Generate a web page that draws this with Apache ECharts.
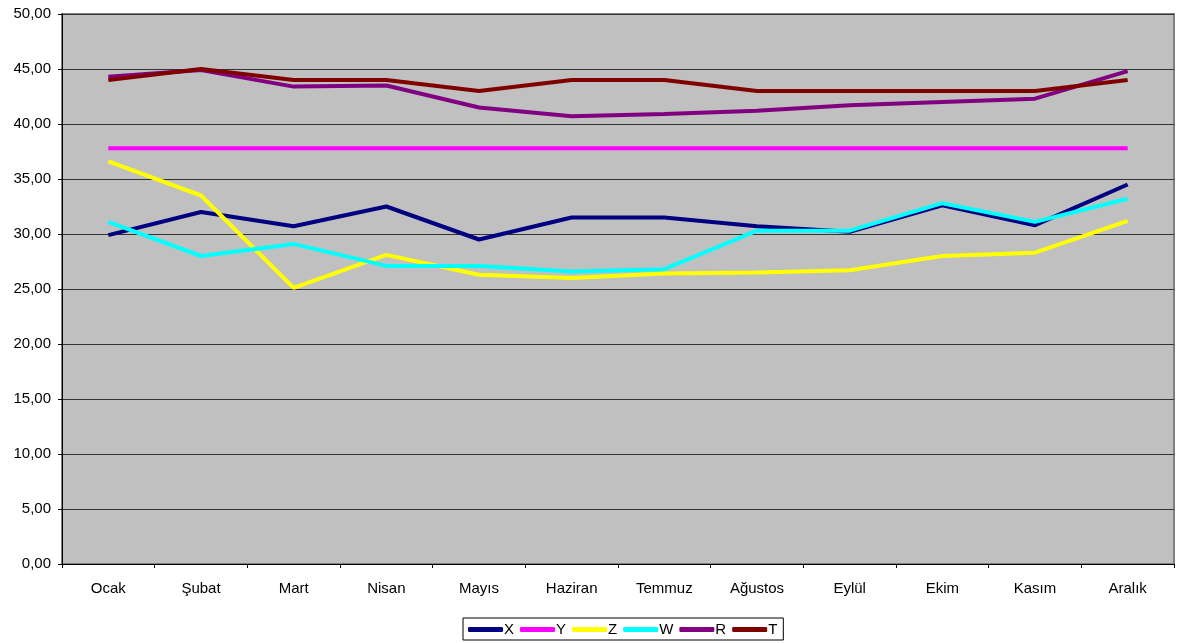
<!DOCTYPE html>
<html>
<head>
<meta charset="utf-8">
<script src="https://cdn.jsdelivr.net/npm/echarts@6/dist/echarts.min.js"></script>
<style>
  html, body { margin: 0; padding: 0; background: #fff; }
  #chart { width: 1177px; height: 643px; }
</style>
</head>
<body>
<div id="chart"></div>
<script>
const months = ['Ocak', 'Şubat', 'Mart', 'Nisan', 'Mayıs', 'Haziran', 'Temmuz', 'Ağustos', 'Eylül', 'Ekim', 'Kasım', 'Aralık']

const seriesX = [29.9, 32.0, 30.7, 32.5, 29.5, 31.5, 31.5, 30.7, 30.2, 32.6, 30.8, 34.5]
const seriesY = [37.8, 37.8, 37.8, 37.8, 37.8, 37.8, 37.8, 37.8, 37.8, 37.8, 37.8, 37.8]
const seriesZ = [36.6, 33.5, 25.1, 28.1, 26.3, 26.0, 26.4, 26.5, 26.7, 28.0, 28.3, 31.2]
const seriesW = [31.1, 28.0, 29.1, 27.1, 27.1, 26.6, 26.8, 30.3, 30.3, 32.8, 31.1, 33.2]
const seriesR = [44.3, 44.9, 43.4, 43.5, 41.5, 40.7, 40.9, 41.2, 41.7, 42.0, 42.3, 44.8]
const seriesT = [44.0, 45.0, 44.0, 44.0, 43.0, 44.0, 44.0, 43.0, 43.0, 43.0, 43.0, 44.0]

const names = ['X', 'Y', 'Z', 'W', 'R', 'T']
const colors = ['#000080', '#ff00ff', '#ffff00', '#00ffff', '#800080', '#800000']
const values = [seriesX, seriesY, seriesZ, seriesW, seriesR, seriesT]

const chart = echarts.init(document.getElementById('chart'))

const font = 'Liberation Sans, Arial, sans-serif'

const option = {
  backgroundColor: '#ffffff',
  animation: false,
  grid: {
    left: 62,
    right: 3,
    top: 14,
    bottom: 79,
    show: true,
    backgroundColor: '#c0c0c0',
    borderColor: '#808080',
    borderWidth: 2,
  },
  legend: {
    bottom: 3,
    left: 463,
    data: names,
    icon: 'roundRect',
    itemWidth: 35,
    itemHeight: 5,
    itemGap: 6,
    borderColor: '#000',
    borderWidth: 1,
    padding: [4, 6, 3, 5],
    textStyle: { color: '#000', fontSize: 15, fontFamily: font, padding: [0, 0, 0, -4] },
  },
  xAxis: {
    type: 'category',
    data: months,
    boundaryGap: true,
    axisLine: { lineStyle: { color: '#000', width: 1 } },
    axisTick: { show: true, length: 4, lineStyle: { color: '#000' } },
    axisLabel: { color: '#000', fontSize: 15, fontFamily: font, margin: 17 },
    splitLine: { show: false },
  },
  yAxis: {
    type: 'value',
    min: 0,
    max: 50,
    interval: 5,
    axisLine: { show: true, lineStyle: { color: '#000', width: 1 } },
    axisTick: { show: true, length: 4, lineStyle: { color: '#000' } },
    axisLabel: {
      color: '#000',
      fontSize: 15,
      fontFamily: font,
      margin: 11,
      formatter: v => v.toFixed(2).replace('.', ','),
    },
    splitLine: { lineStyle: { color: '#333', width: 1 } },
  },
  series: names.map((name, i) => ({
    name,
    type: 'line',
    data: values[i],
    symbol: 'none',
    smooth: false,
    itemStyle: { color: colors[i] },
    lineStyle: { color: colors[i], width: 4 },
  })),
}

chart.setOption(option)
</script>
</body>
</html>
